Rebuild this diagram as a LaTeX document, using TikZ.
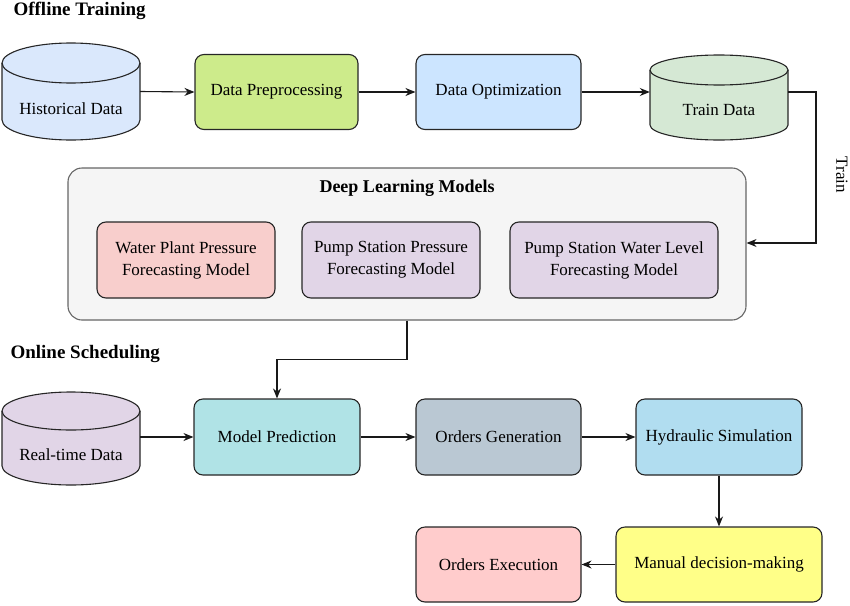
\documentclass[tikz,border=0pt]{standalone}
\usepackage{fontspec}
\setmainfont{Liberation Serif}
\usetikzlibrary{arrows.meta}

\definecolor{histfill}{HTML}{DAE8FC}
\definecolor{prepfill}{HTML}{CDEB8B}
\definecolor{optimfill}{HTML}{CCE5FF}
\definecolor{trainfill}{HTML}{D5E8D4}
\definecolor{groupfill}{HTML}{F5F5F5}
\definecolor{groupline}{HTML}{666666}
\definecolor{plantfill}{HTML}{F8CECC}
\definecolor{pumpfill}{HTML}{E1D5E7}
\definecolor{predfill}{HTML}{B0E3E6}
\definecolor{genfill}{HTML}{BAC8D3}
\definecolor{hydfill}{HTML}{B1DDF0}
\definecolor{manualfill}{HTML}{FFFF88}
\definecolor{execfill}{HTML}{FFCCCC}

\tikzset{
  boxtext/.style={font=\fontsize{17}{22}\selectfont, align=center},
  box/.style={boxtext, draw=black!85, line width=1.1pt, rounded corners=9pt,
    minimum height=75pt, inner sep=0pt},
  cylbox/.style={minimum width=138pt, inner sep=0pt},
  cylline/.style={draw=black!85, line width=1.1pt},
  title/.style={font=\fontsize{19}{22}\selectfont\bfseries, anchor=west},
  flow/.style={-{Stealth[length=10pt,width=8pt]}, line width=1.1pt, black!90}
}

% name, centre x, top y, bottom y, ry, fill, label
\newcommand{\datacyl}[7]{%
  \fill[#6] (#2pt-69pt,-#3pt-#5pt) -- (#2pt-69pt,-#4pt+#5pt)
    arc[start angle=180,end angle=360,x radius=69pt,y radius=#5pt]
    -- (#2pt+69pt,-#3pt-#5pt)
    arc[start angle=0,end angle=180,x radius=69pt,y radius=#5pt] -- cycle;
  \draw[cylline] (#2pt-69pt,-#3pt-#5pt) -- (#2pt-69pt,-#4pt+#5pt)
    arc[start angle=180,end angle=360,x radius=69pt,y radius=#5pt]
    -- (#2pt+69pt,-#3pt-#5pt);
  \draw[cylline] (#2pt,-#3pt-#5pt) ellipse[x radius=69pt,y radius=#5pt];
  \node[cylbox, minimum height=#4pt-#3pt] (#1) at (#2pt,-#3pt/2-#4pt/2) {};
  \node[boxtext] (#1-label) at (#2pt,-#3pt/2-#5pt-#4pt/2+3pt) {#7};
}

\begin{document}
\begin{tikzpicture}

  \useasboundingbox (0pt,0pt) rectangle (850pt,-605pt);

  %% offline training
  \node[title] (offline) at (10pt,-11pt) {Offline Training};

  \datacyl{hist}{71}{43}{140}{20}{histfill}{Historical Data}
  \node[box, fill=prepfill, minimum width=163pt] (prep) at (276.5pt,-92pt)
    {Data Preprocessing};
  \node[box, fill=optimfill, minimum width=165pt] (optim) at (498.5pt,-92pt)
    {Data Optimization};
  \datacyl{train}{719}{55}{140}{15}{trainfill}{Train Data}

  \draw[flow] (hist.east) -- (prep.west);
  \draw[flow] (prep.east) -- (optim.west);
  \draw[flow] (optim.east) -- (optim.east -| train.west);

  %% models
  \node[draw=groupline, fill=groupfill, line width=1.1pt, rounded corners=14pt,
    minimum width=678pt, minimum height=152pt] (dlm) at (407pt,-244pt) {};
  \node[font=\fontsize{18}{21}\selectfont\bfseries] (dlm-title)
    at (407pt,-188pt) {Deep Learning Models};
  \node[box, fill=plantfill, minimum width=178pt, minimum height=76pt] (plant)
    at (186pt,-260pt) {Water Plant Pressure\\Forecasting Model};
  \node[box, fill=pumpfill, minimum width=178pt, minimum height=76pt] (pump)
    at (391pt,-260pt) {Pump Station Pressure\\Forecasting Model};
  \node[box, fill=pumpfill, minimum width=208pt, minimum height=76pt] (level)
    at (614pt,-260pt) {Pump Station Water Level\\Forecasting Model};

  \coordinate (trainbend) at (816pt,-243pt);
  \draw[flow] ([yshift=5.5pt]train.east) -| (trainbend) -- (trainbend -| dlm.east);
  \node[boxtext, rotate=-90] (train-tag) at (842pt,-175pt) {Train};

  %% online scheduling
  \node[title] (online) at (7pt,-354pt) {Online Scheduling};

  \datacyl{rt}{71}{392}{485}{19}{pumpfill}{Real-time Data}
  \node[box, fill=predfill, minimum width=166pt, minimum height=76pt] (pred)
    at (277pt,-437pt) {Model Prediction};
  \node[box, fill=genfill, minimum width=165pt, minimum height=76pt] (gen)
    at (498.5pt,-437pt) {Orders Generation};
  \node[box, fill=hydfill, minimum width=166pt, minimum height=76pt] (hyd)
    at (719pt,-437pt) {Hydraulic Simulation};
  \node[box, fill=manualfill, minimum width=206pt] (manual)
    at (719pt,-564.5pt) {Manual decision-making};
  \node[box, fill=execfill, minimum width=165pt] (exec)
    at (498.5pt,-564.5pt) {Orders Execution};

  \draw[flow] (dlm.south) -- ++(0pt,-39pt) -| (pred.north);
  \draw[flow] (rt.east |- pred.west) -- (pred.west);
  \draw[flow] (pred.east) -- (gen.west);
  \draw[flow] (gen.east) -- (hyd.west);
  \draw[flow] (hyd.south) -- (manual.north);
  \draw[flow] (manual.west) -- (exec.east);

\end{tikzpicture}
\end{document}
